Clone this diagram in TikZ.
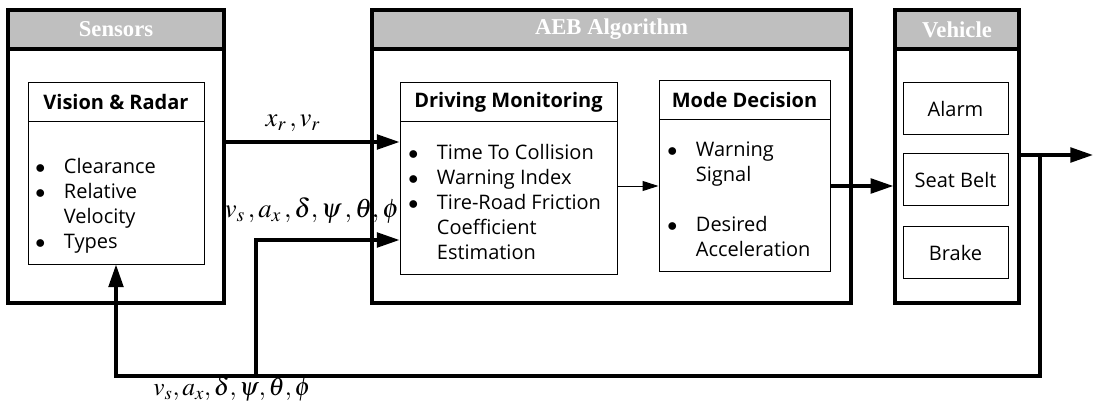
\documentclass[tikz,border=0pt]{standalone}
\usepackage{mathptmx}
\usepackage{fontspec}
\setmainfont{Open Sans}
\newfontfamily\headfont{Liberation Serif}
\usetikzlibrary{arrows.meta}

\definecolor{headgray}{RGB}{191,191,191}

\tikzset{
        outerbox/.style={draw, line width=2.5pt, inner sep=0pt},
        headbar/.style={draw, line width=2.5pt, fill=headgray, inner sep=0pt,
                minimum height=29.25pt, text=white,
                font=\headfont\bfseries\fontsize{17}{19}\selectfont},
        innerbox/.style={draw, line width=0.75pt, inner sep=0pt},
        innerhead/.style={draw, line width=0.75pt, inner sep=0pt,
                minimum height=29.25pt, font=\bfseries\fontsize{15}{17}\selectfont},
        itemtext/.style={inner sep=0pt, font=\fontsize{15}{18.75}\selectfont},
        flow/.style={line width=2.5pt, -{Triangle[length=17pt,width=11pt]}},
        thinflow/.style={line width=0.75pt, -{Triangle[length=12pt,width=7.5pt]}},
        siglabel/.style={inner sep=0pt, font=\fontsize{20}{24}\selectfont},
}
\newcommand{\itm}{$\bullet$}

\begin{document}
\begin{tikzpicture}[x=0.75pt,y=-0.75pt]
        \useasboundingbox (0,0) rectangle (1093,403);

        % outer blocks
        \node[outerbox, minimum width=162pt, minimum height=219.75pt] (sens) at (116,156.5) {};
        \node[headbar, minimum width=162pt, anchor=north] (senshd) at (sens.north) {Sensors};

        \node[outerbox, minimum width=359.25pt, minimum height=219.75pt] (aeb) at (611.5,156.5) {};
        \node[headbar, minimum width=359.25pt, anchor=north] (aebhd) at (aeb.north) {AEB Algorithm};

        \node[outerbox, minimum width=93pt, minimum height=219.75pt] (veh) at (957,156.5) {};
        \node[headbar, minimum width=93pt, anchor=north] (vehhd) at (veh.north) {Vehicle};

        % sensors
        \node[innerbox, minimum width=132pt, minimum height=135.75pt] (vis) at (116,173.5) {};
        \node[innerhead, minimum width=132pt, anchor=north] (vishd) at (vis.north) {Vision \& Radar};
        \node[itemtext, anchor=west] (visitems) at (35,205.5) {%
                \begin{tabular}{@{}l@{\hspace{14pt}}l@{}}
                    \itm & Clearance \\ \itm & Relative \\ & Velocity \\
                    \itm & Types \end{tabular}};

        % algorithm
        \node[innerbox, minimum width=162.75pt, minimum height=143.25pt] (dm) at (508.5,178.5) {};
        \node[innerhead, minimum width=162.75pt, anchor=north] (dmhd) at (dm.north) {Driving Monitoring};
        \node[itemtext, anchor=west] (dmitems) at (408,204) {%
                \begin{tabular}{@{}l@{\hspace{14pt}}l@{}}
                    \itm & Time To Collision \\ \itm & Warning Index \\
                    \itm & Tire-Road Friction \\ & Coefficient \\ & Estimation
                \end{tabular}};

        \node[innerbox, minimum width=128.25pt, minimum height=142.5pt] (md) at (744.5,176) {};
        \node[innerhead, minimum width=128.25pt, anchor=north] (mdhd) at (md.north) {Mode Decision};
        \node[itemtext, anchor=west] (mditems) at (667,201) {%
                \begin{tabular}{@{}l@{\hspace{14pt}}l@{}}
                    \itm & Warning \\ & Signal \\ & \\
                    \itm & Desired \\ & Acceleration \end{tabular}};

        % vehicle
        \node[innerbox, itemtext, minimum width=78.75pt, minimum height=39pt] (alarm) at (955.5,109) {Alarm};
        \node[innerbox, itemtext, minimum width=78.75pt, minimum height=39pt] (belt) at (955.5,179.5) {Seat Belt};
        \node[innerbox, itemtext, minimum width=78.75pt, minimum height=39pt] (brake) at (955.5,252.5) {Brake};

        % signals
        \coordinate (ylvl1) at (0,142);
        \coordinate (ylvl2) at (0,186);
        \coordinate (ylvl3) at (0,240);
        \coordinate (fbtop) at (1040,155);
        \coordinate (fbbot) at (1040,376);
        \coordinate (tap) at (256,376);
        \coordinate (out) at (1093,155);

        \draw[flow] (sens.east |- ylvl1) -- (dm.west |- ylvl1);
        \node[siglabel] (xrlabel) at (293,123) {$x_r\,, v_r$};

        \draw[thinflow] (dm.east |- ylvl2) -- (md.west |- ylvl2);
        \draw[flow] (md.east |- ylvl2) -- (veh.west |- ylvl2);

        \draw[flow] (veh.east |- fbtop) -- (out);
        \draw[flow] (fbtop) -- (fbbot) -- (vis.south |- fbbot) -- (vis.south);
        \draw[flow] (tap) |- (dm.west |- ylvl3);

        \node[siglabel] (uplabel) at (312,211) {$v_s\,, a_x\,, \delta, \psi\,, \theta, \phi$};
        \node[siglabel, font=\fontsize{19}{22}\selectfont] (lowlabel) at (232,389) {$v_s, a_x, \delta, \psi, \theta, \phi$};
\end{tikzpicture}
\end{document}
